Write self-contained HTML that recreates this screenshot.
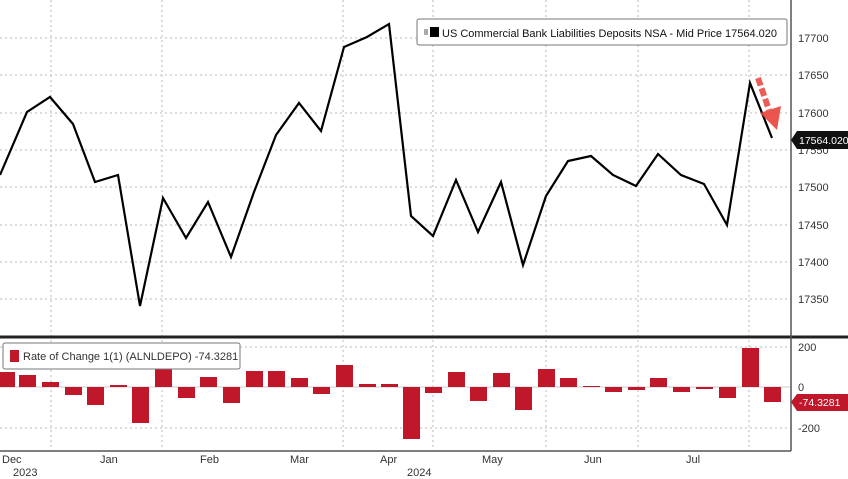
<!DOCTYPE html>
<html><head><style>
body{margin:0;background:#fff;}
svg{display:block;font-family:"Liberation Sans",sans-serif;}
</style></head><body>
<svg width="848" height="479" viewBox="0 0 848 479" xmlns="http://www.w3.org/2000/svg">
<rect width="848" height="479" fill="#fff"/>
<g stroke="#bbb" stroke-width="1" stroke-dasharray="2,3">
<line x1="0" y1="38" x2="791" y2="38"/><line x1="0" y1="75" x2="791" y2="75"/>
<line x1="0" y1="113" x2="791" y2="113"/><line x1="0" y1="150" x2="791" y2="150"/>
<line x1="0" y1="187" x2="791" y2="187"/><line x1="0" y1="225" x2="791" y2="225"/>
<line x1="0" y1="262" x2="791" y2="262"/><line x1="0" y1="299" x2="791" y2="299"/>
<line x1="0" y1="347" x2="791" y2="347"/><line x1="0" y1="428" x2="791" y2="428"/>
<line x1="51" y1="0" x2="51" y2="451"/><line x1="162" y1="0" x2="162" y2="451"/>
<line x1="343" y1="0" x2="343" y2="451"/><line x1="433" y1="0" x2="433" y2="451"/>
<line x1="546" y1="0" x2="546" y2="451"/><line x1="638" y1="0" x2="638" y2="451"/>
<line x1="749" y1="0" x2="749" y2="451"/>
</g>
<line x1="0" y1="387" x2="791" y2="387" stroke="#ccc" stroke-width="1"/>
<polyline fill="none" stroke="#000" stroke-width="2.2" stroke-linejoin="miter" points="0,175 27,112 50,97 73,124 95,182 118,175 140,306 163,198 186,238 208,202 231,257 254,192 276,135 299,103 321,131 344,47 367,37 389,24 411,216 433,236 456,180 478,232 501,182 523,265 546,196 568,161 591,156 613,175 636,186 658,154 681,175 704,184 727,225 750,83 772,138"/>
<line x1="758" y1="78" x2="769" y2="110" stroke="#e8433a" stroke-width="6" stroke-dasharray="8,3" opacity="0.85"/>
<polygon points="760,113 781,106 777,130" fill="#e8433a" opacity="0.9"/>
<g fill="#c0172b">
<rect x="-8" y="372" width="23" height="15"/><rect x="19" y="375" width="17" height="12"/>
<rect x="42" y="382" width="17" height="5"/><rect x="65" y="387" width="17" height="8"/>
<rect x="87" y="387" width="17" height="18"/><rect x="110" y="385" width="17" height="2"/>
<rect x="132" y="387" width="17" height="36"/><rect x="155" y="367" width="17" height="20"/>
<rect x="178" y="387" width="17" height="11"/><rect x="200" y="377" width="17" height="10"/>
<rect x="223" y="387" width="17" height="16"/><rect x="246" y="371" width="17" height="16"/>
<rect x="268" y="371" width="17" height="16"/><rect x="291" y="378" width="17" height="9"/>
<rect x="313" y="387" width="17" height="7"/><rect x="336" y="365" width="17" height="22"/>
<rect x="359" y="384" width="17" height="3"/><rect x="381" y="384" width="17" height="3"/>
<rect x="403" y="387" width="17" height="52"/><rect x="425" y="387" width="17" height="6"/>
<rect x="448" y="372" width="17" height="15"/><rect x="470" y="387" width="17" height="14"/>
<rect x="493" y="373" width="17" height="14"/><rect x="515" y="387" width="17" height="23"/>
<rect x="538" y="369" width="17" height="18"/><rect x="560" y="378" width="17" height="9"/>
<rect x="583" y="386" width="17" height="1"/><rect x="605" y="387" width="17" height="5"/>
<rect x="628" y="387" width="17" height="3"/><rect x="650" y="378" width="17" height="9"/>
<rect x="673" y="387" width="17" height="5"/><rect x="696" y="387" width="17" height="2"/>
<rect x="719" y="387" width="17" height="11"/><rect x="742" y="348" width="17" height="39"/>
<rect x="764" y="387" width="17" height="15"/>
</g>
<line x1="0" y1="337" x2="848" y2="337" stroke="#222" stroke-width="3"/>
<line x1="791" y1="0" x2="791" y2="451" stroke="#555" stroke-width="1.5"/>
<line x1="0" y1="451" x2="791" y2="451" stroke="#555" stroke-width="1.5"/>
<g fill="#333" font-size="11">
<text x="798" y="42">17700</text><text x="798" y="79">17650</text><text x="798" y="117">17600</text>
<text x="798" y="154">17550</text><text x="798" y="191">17500</text><text x="798" y="229">17450</text>
<text x="798" y="266">17400</text><text x="798" y="303">17350</text>
<text x="798" y="351">200</text><text x="798" y="391">0</text><text x="798" y="432">-200</text>
<text x="2" y="463">Dec</text><text x="100" y="463">Jan</text><text x="200" y="463">Feb</text>
<text x="290" y="463">Mar</text><text x="380" y="463">Apr</text><text x="482" y="463">May</text>
<text x="584" y="463">Jun</text><text x="686" y="463">Jul</text>
<text x="13" y="476">2023</text><text x="407" y="476">2024</text>
</g>
<path d="M797,131 L848,131 L848,149 L797,149 L791,140 Z" fill="#111"/>
<text x="799" y="144" font-size="10.5" fill="#fff">17564.020</text>
<path d="M797,394 L848,394 L848,411 L797,411 L791,402 Z" fill="#c0172b"/>
<text x="799" y="406" font-size="10.5" fill="#fff">-74.3281</text>
<rect x="417" y="19" width="370" height="26" rx="2" fill="#fff" stroke="#777" stroke-width="1"/>
<rect x="424" y="29" width="4" height="6" fill="#aaa"/>
<rect x="430" y="27" width="9" height="10" fill="#000"/>
<text x="442" y="37" font-size="11" fill="#111">US Commercial Bank Liabilities Deposits NSA - Mid Price 17564.020</text>
<rect x="3" y="343" width="237" height="26" rx="2" fill="#fff" stroke="#777" stroke-width="1"/>
<rect x="10" y="350" width="9" height="12" fill="#c0172b"/>
<text x="23" y="360" font-size="11" fill="#333">Rate of Change 1(1) (ALNLDEPO) -74.3281</text>
</svg>
</body></html>
